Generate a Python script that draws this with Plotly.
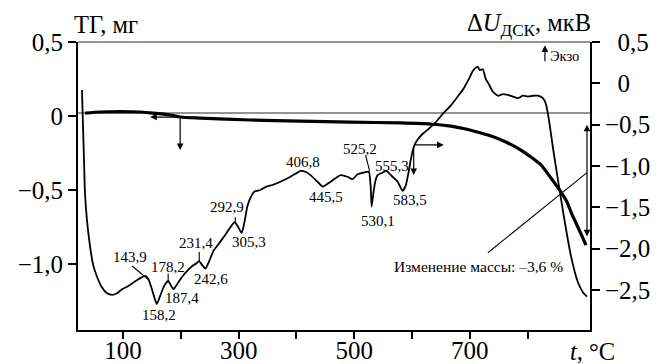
import plotly.graph_objects as go

# ---- data ----
tg_t = [34.1, 60.1, 94.8, 129.5, 152.0, 181.5, 198.8, 233.5, 320.2, 406.9, 493.6, 580.3,
        632.3, 667.0, 693.0, 719.0, 741.6, 762.4, 788.4, 805.7, 823.1, 840.4, 857.8,
        868.2, 875.1, 883.8, 892.4, 901.1]
tg_mg = [0.020, 0.027, 0.030, 0.027, 0.020, 0.007, -0.007, -0.014, -0.027, -0.034, -0.041,
         -0.047, -0.054, -0.068, -0.088, -0.115, -0.142, -0.176, -0.230, -0.277, -0.331,
         -0.419, -0.514, -0.581, -0.649, -0.723, -0.797, -0.872]

dsc_t = [28.9, 30.6, 32.4, 34.1, 37.6, 42.8, 48.0, 54.9, 63.6, 72.3, 80.9, 89.6, 98.3, 106.9,
         115.6, 124.3, 131.2, 138.1, 143.9, 150.3, 158.2, 164.2, 171.1, 178.2, 183.2, 187.4,
         193.6, 202.3, 211.0, 219.6, 226.6, 231.4, 237.0, 242.6, 249.1, 256.1, 264.7, 275.1,
         283.8, 292.9, 297.7, 305.3, 309.8, 315.0, 320.2, 327.2, 337.6, 348.0, 358.4, 372.2,
         389.6, 401.7, 406.8, 415.6, 424.3, 436.4, 445.5, 459.2, 476.3, 488.4, 497.1, 505.8,
         516.2, 525.2, 528.3, 530.1, 533.5, 537.0, 540.4, 549.1, 555.3, 566.4, 575.1, 583.5,
         589.0, 594.2, 597.7, 602.9, 609.8, 618.5, 628.9, 641.0, 653.2, 667.0, 679.2, 689.6,
         698.2, 705.2, 710.4, 713.8, 717.3, 722.5, 727.7, 732.9, 739.8, 748.5, 757.2, 765.8,
         774.5, 783.2, 791.9, 800.5, 809.2, 817.9, 826.5, 831.7, 836.9, 843.9, 852.6, 863.0,
         875.1, 887.2, 895.9, 902.8]
dsc_uv = [-0.08, -0.50, -0.93, -1.33, -1.66, -1.97, -2.19, -2.34, -2.47, -2.54, -2.56, -2.54,
          -2.49, -2.46, -2.42, -2.38, -2.35, -2.33, -2.37, -2.50, -2.67, -2.57, -2.45, -2.39,
          -2.45, -2.49, -2.43, -2.34, -2.27, -2.21, -2.18, -2.15, -2.20, -2.24, -2.15, -2.03,
          -1.95, -1.85, -1.76, -1.68, -1.72, -1.81, -1.69, -1.49, -1.39, -1.31, -1.29, -1.25,
          -1.23, -1.19, -1.13, -1.08, -1.06, -1.07, -1.11, -1.19, -1.25, -1.19, -1.11, -1.13,
          -1.16, -1.10, -1.08, -1.07, -1.23, -1.49, -1.31, -1.17, -1.11, -1.08, -1.06, -1.13,
          -1.19, -1.30, -1.24, -1.07, -0.93, -0.77, -0.68, -0.61, -0.55, -0.47, -0.37, -0.27,
          -0.16, -0.06, 0.05, 0.15, 0.19, 0.20, 0.16, 0.17, 0.05, -0.01, -0.10, -0.15, -0.13,
          -0.14, -0.16, -0.18, -0.15, -0.16, -0.15, -0.15, -0.18, -0.25, -0.44, -0.78, -1.17,
          -1.62, -2.09, -2.41, -2.53, -2.58]

x_tickvals = [100, 200, 300, 400, 500, 600, 700, 800]
x_ticktext = ["100", "", "300", "", "500", "", "700", ""]
y1_tickvals = [0.5, 0, -0.5, -1.0]
y1_ticktext = ["0,5", "0", "\u22120,5", "\u22121,0"]
y2_tickvals = [0.5, 0, -0.5, -1.0, -1.5, -2.0, -2.5]
y2_ticktext = ["\u20020,5", "\u20020", "\u22120,5", "\u22121,0", "\u22121,5", "\u22122,0", "\u22122,5"]

# peak labels: (text, T, dsc value of label centre)
peak_labels = [("143,9", 112.1, -2.10), ("178,2", 178.0, -2.22), ("158,2", 162.4, -2.80),
               ("187,4", 202.3, -2.60), ("231,4", 226.6, -1.93), ("242,6", 252.6, -2.37),
               ("292,9", 280.3, -1.49), ("305,3", 318.5, -1.92), ("406,8", 411.3, -0.95),
               ("445,5", 452.0, -1.37), ("525,2", 509.2, -0.79), ("555,3", 564.7, -1.00),
               ("583,5", 595.9, -1.41), ("530,1", 540.4, -1.66)]
leaders = [(115.6, -2.21, 143.4, -2.37), (178.0, -2.30, 178.0, -2.39),
           (231.8, -2.04, 231.8, -2.15), (294.2, -1.62, 294.2, -1.68),
           (519.6, -0.87, 526.6, -1.06)]

FONT = "Liberation Serif"
fig = go.Figure()
fig.add_trace(go.Scatter(x=tg_t, y=tg_mg, mode="lines", yaxis="y",
                         line=dict(color="black", width=3.2, shape="spline", smoothing=0.6),
                         showlegend=False))
fig.add_trace(go.Scatter(x=dsc_t, y=dsc_uv, mode="lines", yaxis="y2",
                         line=dict(color="black", width=1.8, shape="spline", smoothing=0.5),
                         showlegend=False))

shapes = [
    dict(type="line", xref="paper", yref="y", x0=0, x1=1, y0=0.02, y1=0.02,
         line=dict(color="#707070", width=1.6), layer="below"),
    dict(type="line", xref="paper", yref="paper", x0=0, x1=1, y0=1, y1=1,
         line=dict(color="#707070", width=1.6)),
    dict(type="line", xref="x", yref="y2", x0=731.2, y0=-2.05, x1=902.8, y1=-1.08,
         line=dict(color="black", width=1.1)),
]
for (a, b, c, d) in leaders:
    shapes.append(dict(type="line", xref="x", yref="y2", x0=a, y0=b, x1=c, y1=d,
                       line=dict(color="black", width=1.1)))

ann = []
for (txt, t, v) in peak_labels:
    ann.append(dict(text=txt, x=t, y=v, xref="x", yref="y2", showarrow=False,
                    font=dict(family=FONT, size=15, color="black"),
                    xanchor="center", yanchor="middle"))


def arrow(x, y, ax, ay, yref, side="end"):
    return dict(x=x, y=y, ax=ax, ay=ay, xref="x", yref=yref, axref="x", ayref=yref,
                text="", showarrow=True, arrowhead=2, arrowsize=1.1, arrowwidth=1.2,
                arrowcolor="black", arrowside=side, standoff=0, startstandoff=0)


ann += [
    arrow(146.8, -0.007, 198.8, -0.007, "y"),
    arrow(198.8, -0.23, 198.8, -0.007, "y"),
    arrow(654.9, -0.745, 602.9, -0.745, "y2"),
    arrow(602.9, -1.11, 602.9, -0.745, "y2"),
    arrow(830.0, 0.46, 830.0, 0.25, "y2"),
    arrow(902.8, -0.50, 902.8, -1.87, "y2", side="end+start"),
    dict(text="Экзо", x=836, y=0.33, xref="x", yref="y2", showarrow=False,
         xanchor="left", yanchor="middle", font=dict(family=FONT, size=14.5, color="black")),
    dict(text="Изменение массы: \u20133,6 %", x=715.6, y=-2.21, xref="x", yref="y2",
         showarrow=False, xanchor="center", yanchor="middle",
         font=dict(family=FONT, size=15.5, color="black")),
    dict(text="ТГ, мг", x=-0.012, y=1.06, xref="paper", yref="paper", showarrow=False,
         xanchor="left", yanchor="middle", font=dict(family=FONT, size=24.5, color="black")),
    dict(text="\u0394<i>U</i><sub>ДСК</sub>, мкВ", x=1.006, y=1.06, xref="paper", yref="paper",
         showarrow=False, xanchor="right", yanchor="middle",
         font=dict(family=FONT, size=24.5, color="black")),
    dict(text="<i>t</i>, °C", x=1.053, y=-0.076, xref="paper", yref="paper", showarrow=False,
         xanchor="right", yanchor="middle", font=dict(family=FONT, size=24.5, color="black")),
]

axis_common = dict(showgrid=False, zeroline=False, showline=True, linecolor="black",
                   linewidth=2, ticks="outside", tickwidth=2, tickcolor="black",
                   automargin=False, tickfont=dict(family=FONT, size=25, color="black"))

fig.update_layout(
    template="none",
    width=670, height=364,
    margin=dict(l=78, r=80, t=42, b=34, autoexpand=False),
    paper_bgcolor="white", plot_bgcolor="white",
    font=dict(family=FONT, size=24, color="black"),
    shapes=shapes, annotations=ann,
    xaxis=dict(range=[22, 908], tickvals=x_tickvals, ticktext=x_ticktext, ticklen=7,
               ticklabelstandoff=-10, **axis_common),
    yaxis=dict(range=[-1.446, 0.5], tickvals=y1_tickvals, ticktext=y1_ticktext, ticklen=8,
               **axis_common),
    yaxis2=dict(range=[-2.984, 0.5], tickvals=y2_tickvals, ticktext=y2_ticktext, ticklen=8,
                overlaying="y", side="right", **axis_common),
)

fig.write_html("out.html")
